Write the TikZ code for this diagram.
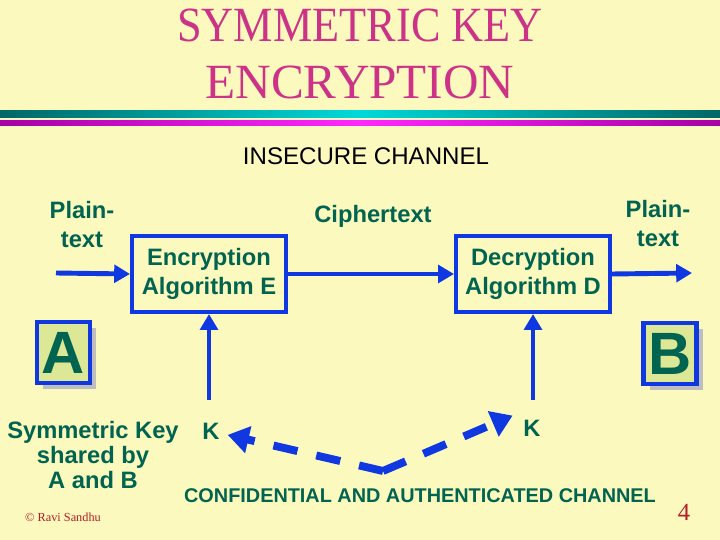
\documentclass[tikz,border=0pt]{standalone}
\usepackage{fontspec}
\setmainfont{Liberation Serif}
\setsansfont{Liberation Sans}
\usetikzlibrary{arrows.meta,positioning,shadows}

\definecolor{paper}{RGB}{251,249,189}
\definecolor{linkblue}{RGB}{16,56,224}
\definecolor{inkteal}{RGB}{0,100,80}
\definecolor{titlepink}{RGB}{204,51,136}
\definecolor{partyfill}{RGB}{221,232,150}
\definecolor{shadegray}{RGB}{190,190,190}
\definecolor{noteRed}{RGB}{180,30,40}

\tikzset{
  lbl/.style={font=\sffamily\bfseries\fontsize{13.5}{16.5}\selectfont,text=inkteal,align=center},
  algbox/.style={lbl,draw=linkblue,line width=2.3pt,minimum width=3.08cm,minimum height=1.52cm,inner sep=0pt},
  party/.style={draw=linkblue,fill=partyfill,line width=2.3pt,minimum width=1.06cm,minimum height=1.22cm,
    inner sep=0pt,font=\sffamily\bfseries\fontsize{34}{36}\selectfont,text=inkteal,
    drop shadow={shadow xshift=0.12cm,shadow yshift=-0.12cm,fill=shadegray,opacity=1}},
  flow/.style={draw=linkblue,line width=2.8pt,-{Triangle[length=9pt,width=10pt]}},
  keyflow/.style={draw=linkblue,line width=4.5pt,dash pattern=on 14pt off 11pt,-{Triangle[length=12pt,width=15pt]}}
}

\begin{document}
\begin{tikzpicture}[x=0.02cm,y=-0.02cm]
  \useasboundingbox (0,0) rectangle (720,540);
  \fill[paper] (0,0) rectangle (720,540);

  % title and rules
  \node[font=\fontsize{28}{30}\selectfont,text=titlepink,align=center] (title) at (360,54)
    {\scalebox{0.9}[1]{SYMMETRIC KEY}\\[2pt]ENCRYPTION};
  \shade[left color=teal!80!black,right color=teal!80!black,middle color=cyan!70!teal] (0,111) rectangle (720,118);
  \shade[left color=violet!70!magenta,right color=violet!70!magenta,middle color=magenta!85] (0,121) rectangle (720,126);

  \node[font=\sffamily\fontsize{13.7}{16}\selectfont] (insecure) at (366,156) {INSECURE CHANNEL};

  % algorithms
  \node[algbox] (enc) at (209,274) {Encryption\\Algorithm E};
  \node[algbox] (dec) at (533,274) {Decryption\\Algorithm D};
  \node[lbl] (ptin) at (82,225) {Plain-\\text};
  \node[lbl] (ptout) at (658,224) {Plain-\\text};
  \node[lbl] (cipher) at (373,216) {Ciphertext};

  \coordinate (inL) at (56,273);
  \coordinate (outR) at (692,273);
  \draw[flow] (inL) -- (enc.west);
  \draw[flow] (enc.east) -- (dec.west);
  \draw[flow] (dec.east) -- (outR);

  % parties
  \node[party] (A) at (63.5,352.5) {A};
  \node[party] (B) at (670,353.5) {B};

  % keys
  \coordinate (keyE) at (209,400);
  \coordinate (keyD) at (533,400);
  \draw[flow] (keyE) -- (enc.south);
  \draw[flow] (keyD) -- (dec.south);

  \node[lbl] (kL) at (211,431) {K};
  \node[lbl] (kR) at (532,428) {K};
  \node[lbl,font=\sffamily\bfseries\fontsize{13.5}{14.2}\selectfont] (shared) at (93,455) {Symmetric Key\\shared by\\A and B};

  \coordinate (vtip) at (383,471);
  \draw[keyflow,shorten >=0.04cm] (vtip) -- (kL);
  \draw[keyflow,shorten >=0.1cm] (vtip) -- (kR.north west);

  \node[lbl,font=\sffamily\bfseries\fontsize{11.3}{13}\selectfont] (secure) at (420,496)
    {CONFIDENTIAL AND AUTHENTICATED CHANNEL};

  % footer
  \node[font=\fontsize{7}{8}\selectfont,text=noteRed] (credit) at (63,517) {\textcopyright\ Ravi Sandhu};
  \node[font=\fontsize{14}{16}\selectfont,text=noteRed] (page) at (684,512) {4};
\end{tikzpicture}
\end{document}
